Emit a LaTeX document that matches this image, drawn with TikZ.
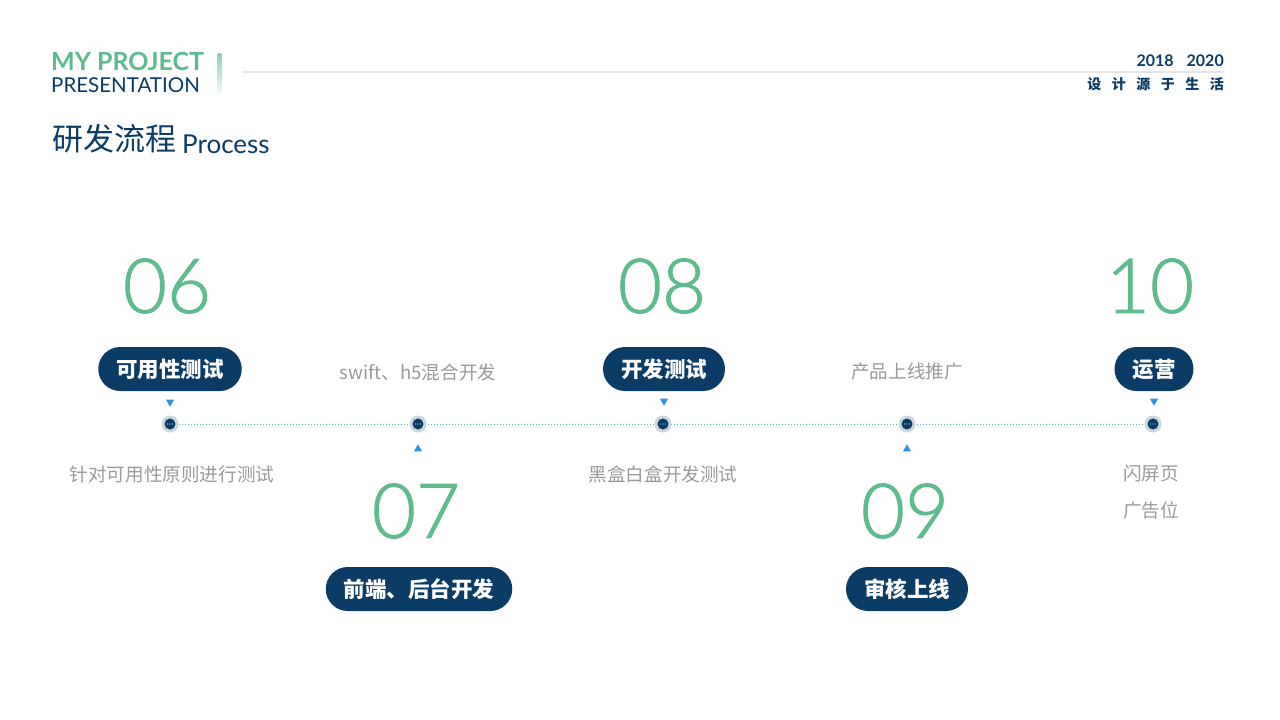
\documentclass[tikz,border=0pt]{standalone}
\usepackage{fontspec}
\setmainfont{Lato}
\newfontfamily\cjk{Noto Sans CJK SC}
\newfontfamily\numfont{Lato}[UprightFont={* Light}, FakeBold=1.2]
\usetikzlibrary{shapes.geometric,calc}
\definecolor{navy}{HTML}{0B3C66}
\definecolor{grn}{HTML}{5DBB8E}
\definecolor{gry}{HTML}{9A9A9A}
\definecolor{tri}{HTML}{2B93E0}
\definecolor{ring}{HTML}{CBD6DE}
\definecolor{tl}{HTML}{4FBFA5}
\tikzset{
  pill/.style={fill=navy, rounded corners=22pt, minimum height=44pt, text=white, inner xsep=18pt, font=\cjk\bfseries\fontsize{21.5}{21.5}\selectfont},
  num/.style={text=grn, font=\numfont\fontsize{76}{76}\selectfont, inner sep=0pt},
  desc/.style={text=gry, font=\cjk\fontsize{18.6}{18.6}\selectfont, inner sep=0pt},
  dtri/.style={fill=tri, isosceles triangle, isosceles triangle apex angle=60, shape border rotate=-90, minimum size=7pt, inner sep=0pt},
  utri/.style={fill=tri, isosceles triangle, isosceles triangle apex angle=60, shape border rotate=90, minimum size=7pt, inner sep=0pt},
}
\begin{document}
\begin{tikzpicture}[x=1pt,y=-1pt]
\useasboundingbox[fill=white] (0,0) rectangle (1280,720);
% header
\node[anchor=west, inner sep=0pt, text=grn, font=\bfseries\fontsize{25}{25}\selectfont] (my) at (51,61) {MY PROJECT};
\node[anchor=west, inner sep=0pt, text=navy, font=\fontsize{20.5}{20.5}\selectfont] (pres) at (51,85) {PRESENTATION};
\shade[top color=grn!70, bottom color=grn!8, rounded corners=2pt] (217,53) rectangle (222,93);
\draw[line width=1.2pt, black!10] (242,72) -- (1225,72);
\node[anchor=east, inner sep=0pt, text=navy, font=\bfseries\fontsize{16}{16}\selectfont] (yr) at (1224,61) {2018\hspace{13pt}2020};
\node[anchor=east, inner sep=0pt, text=navy, font=\cjk\bfseries\fontsize{14}{14}\selectfont] (slogan) at (1224,84) {设\hspace{10.5pt}计\hspace{10.5pt}源\hspace{10.5pt}于\hspace{10.5pt}生\hspace{10.5pt}活};
\node[anchor=west, inner sep=0pt, text=navy, font=\cjk\fontsize{31}{31}\selectfont] (title) at (52,139) {研发流程};
\node[anchor=west, inner sep=0pt, text=navy, font=\fontsize{26}{26}\selectfont] (proc) at (182,144) {Process};
% timeline
\coordinate (d1) at (170,424);
\coordinate (d2) at (418,424);
\coordinate (d3) at (663,424);
\coordinate (d4) at (907,424);
\coordinate (d5) at (1153,424);
\draw[tl, line width=1pt, dotted] (d1) -- (d5);
\foreach \d in {d1,d2,d3,d4,d5}{
  \fill[ring] (\d) circle (8.5pt);
  \fill[navy] (\d) circle (5.5pt);
  \foreach \k in {-2.2,0,2.2} \fill[white!80!navy] ($(\d)+(\k,0)$) circle (0.6pt);
}
% numbers
\node[num] (n06) at (167,286) {06};
\node[num] (n08) at (662,286) {08};
\node[num] (n10) at (1150,286) {10};
\node[num] (n07) at (416,511) {07};
\node[num] (n09) at (905,511) {09};
% pills
\node[pill] (p1) at (170,369) {可用性测试};
\node[pill] (p3) at (664,369) {开发测试};
\node[pill] (p5) at (1154,369) {运营};
\node[pill] (p2) at (419,589) {前端、后台开发};
\node[pill] (p4) at (907,589) {审核上线};
% triangles
\node[dtri] (t1) at (170,402) {};
\node[dtri] (t3) at (664,401) {};
\node[dtri] (t5) at (1154,401) {};
\node[utri] (t2) at (418,449) {};
\node[utri] (t4) at (907,449) {};
% descriptions
\node[desc] (s2) at (418,372) {swift、h5混合开发};
\node[desc] (s4) at (907,372) {产品上线推广};
\node[desc] (s1) at (172,474) {针对可用性原则进行测试};
\node[desc] (s3) at (663,474) {黑盒白盒开发测试};
\node[desc] (s5a) at (1151,474) {闪屏页};
\node[desc] (s5b) at (1151,510) {广告位};
\end{tikzpicture}
\end{document}
